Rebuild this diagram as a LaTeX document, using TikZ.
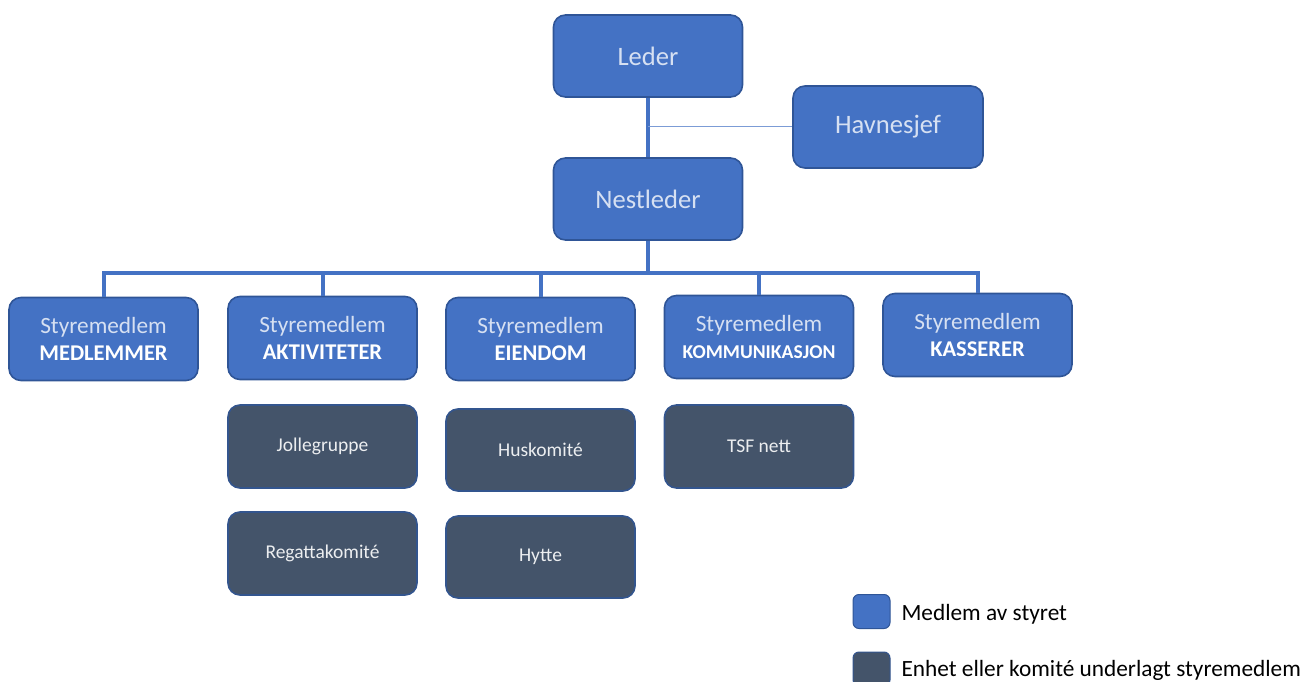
\documentclass[tikz,border=0pt]{standalone}
\usepackage{fontspec}
\setmainfont{Carlito}
\definecolor{blueF}{HTML}{4472C4}
\definecolor{blueD}{HTML}{2F5597}
\definecolor{darkF}{HTML}{44546A}
\definecolor{lightT}{HTML}{D6E0F2}
\definecolor{linec}{HTML}{4472C4}
\begin{document}
\begin{tikzpicture}[x=1pt,y=-1pt,
  board/.style={draw=blueD,line width=1.6pt,fill=blueF,rounded corners=12pt,
    text=lightT,align=center,inner sep=0pt},
  unit/.style={draw=blueD!80!darkF,line width=1.6pt,fill=darkF,rounded corners=12pt,
    text=white!90!darkF,align=center,inner sep=0pt,font=\fontsize{19.5}{23}\selectfont},
  bus/.style={draw=linec,line width=4pt},
  thin/.style={draw=linec!70!white,line width=1pt},
  top/.style={font=\fontsize{26.6}{30}\selectfont},
  mem/.style={board,minimum width=189pt,minimum height=83pt,font=\fontsize{23.3}{27}\selectfont},
  legtext/.style={anchor=west,font=\fontsize{23.3}{27}\selectfont,text=black}
]
\useasboundingbox (0,0) rectangle (1304,682);
\newcommand{\smt}{Styremedlem\\}
\newcommand{\bdt}[1]{\fontsize{22.5}{27}\selectfont\bfseries\color{white}#1}
% top nodes
\node[board,top,minimum width=189pt,minimum height=82pt] (leder) at (648,56) {Leder};
\node[board,top,minimum width=190pt,minimum height=82pt] (havn) at (888,127) {Havnesjef};
\node[board,top,minimum width=189pt,minimum height=82pt] (nest) at (648,199) {Nestleder};
% board members
\node[mem] (m1) at (103.5,339) {\smt\bdt{MEDLEMMER}};
\node[mem] (m2) at (322.5,338) {\smt\bdt{AKTIVITETER}};
\node[mem] (m3) at (540.5,339) {\smt\bdt{EIENDOM}};
\node[mem] (m4) at (759,337) {\smt{\fontsize{19.6}{27}\selectfont\bfseries\color{white}KOMMUNIKASJON}};
\node[mem] (m5) at (977.5,335) {\smt\bdt{KASSERER}};
% units
\node[unit,minimum width=189pt,minimum height=83pt] (u1) at (322.5,446.5) {Jollegruppe};
\node[unit,minimum width=189pt,minimum height=83pt] (u2) at (322.5,553.5) {Regattakomité};
\node[unit,minimum width=189pt,minimum height=82pt] (u3) at (540.5,450) {Huskomité};
\node[unit,minimum width=189pt,minimum height=82pt] (u4) at (540.5,557) {Hytte};
\node[unit,minimum width=189pt,minimum height=83pt] (u5) at (759,446.5) {TSF nett};
% connectors
\draw[bus] (leder.south) -- (nest.north);
\coordinate (hj) at (leder.south |- havn.west);
\draw[thin] (hj) -- (havn.west);
\coordinate (busL) at (m1.north |- 0,273);
\coordinate (busR) at (m5.north |- 0,273);
\draw[bus] (nest.south) -- (nest.south |- busL);
\draw[bus,line cap=rect] (busL) -- (busR);
\foreach \n in {m1,m2,m3,m4,m5}{
  \draw[bus] (\n.north |- busL) -- (\n.north);
}
% legend
\node[board,minimum width=37pt,minimum height=34pt,rounded corners=6pt,line width=1pt] (lg1) at (871.5,611.5) {};
\node[unit,minimum width=37pt,minimum height=34pt,rounded corners=6pt,line width=1pt] (lg2) at (871.5,669) {};
\node[legtext] (lt1) at (898,614) {Medlem av styret};
\node[legtext] (lt2) at (898,670) {Enhet eller komité underlagt styremedlem};
\end{tikzpicture}
\end{document}
